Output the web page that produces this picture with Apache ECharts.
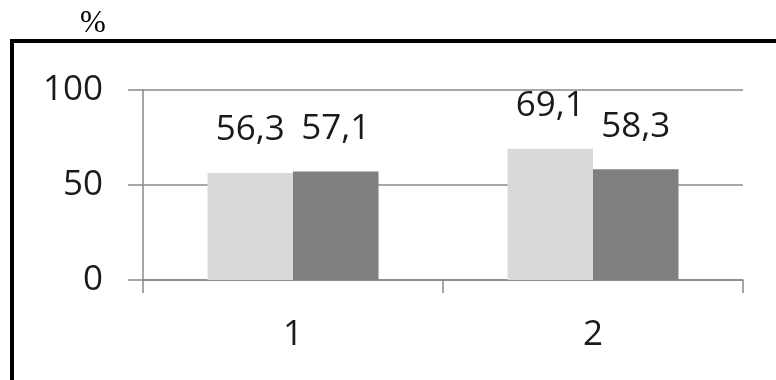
<!DOCTYPE html>
<html>
<head>
<meta charset="utf-8">
<style>
  html, body { margin: 0; padding: 0; background: #fff; }
  #chart { width: 776px; height: 380px; }
</style>
<script src="https://cdn.jsdelivr.net/npm/echarts@6/dist/echarts.min.js"></script>
</head>
<body>
<div id="chart"></div>
<script>
// Categories and the two compared series (percent)
const categories = ['1', '2'];
const seriesLight = [56.3, 69.1];
const seriesDark = [57.1, 58.3];
const yTicks = [0, 50, 100];

const chart = echarts.init(document.getElementById('chart'), null, { renderer: 'canvas' });

const axisGray = '#8a8a8a';
const textColor = '#1a1a1a';
const numFont = '"Open Sans", "Noto Sans", sans-serif';

const labelStyle = {
  show: true,
  position: 'top',
  distance: 25,
  fontFamily: numFont,
  fontSize: 35,
  color: textColor,
  formatter: p => String(p.value).replace('.', ',')
};

chart.setOption({
  animation: false,
  backgroundColor: '#fff',
  grid: { left: 143, right: 33, top: 90, bottom: 100, containLabel: false },
  graphic: [
    {
      type: 'polyline',
      shape: { points: [[12, 380], [12, 41], [776, 41]] },
      style: { stroke: '#000', lineWidth: 4, fill: null }
    },
    {
      type: 'text',
      left: 80, top: 8,
      style: { text: '%', fontFamily: '"Liberation Serif", "DejaVu Serif", serif', fontSize: 31, fill: '#000' }
    }
  ],
  xAxis: {
    type: 'category',
    data: categories,
    boundaryGap: true,
    axisLine: { show: true, lineStyle: { color: axisGray, width: 1.5 } },
    axisTick: { show: true, alignWithLabel: false, length: 13, lineStyle: { color: axisGray, width: 1.5 } },
    axisLabel: { margin: 38, fontFamily: numFont, fontSize: 35, color: textColor }
  },
  yAxis: {
    type: 'value',
    min: yTicks[0],
    max: yTicks[yTicks.length - 1],
    interval: yTicks[1] - yTicks[0],
    axisLine: { show: true, lineStyle: { color: axisGray, width: 1.5 } },
    axisTick: { show: true, length: 15, lineStyle: { color: axisGray, width: 1.5 } },
    splitLine: { show: true, lineStyle: { color: axisGray, width: 1.5 } },
    axisLabel: { margin: 40, fontFamily: numFont, fontSize: 35, color: textColor }
  },
  series: [
    {
      type: 'bar',
      data: seriesLight,
      barGap: '0%',
      barCategoryGap: '43%',
      itemStyle: { color: '#d9d9d9' },
      label: labelStyle
    },
    {
      type: 'bar',
      data: seriesDark,
      barGap: '0%',
      barCategoryGap: '43%',
      itemStyle: { color: '#7f7f7f' },
      label: labelStyle
    }
  ]
});
</script>
</body>
</html>
